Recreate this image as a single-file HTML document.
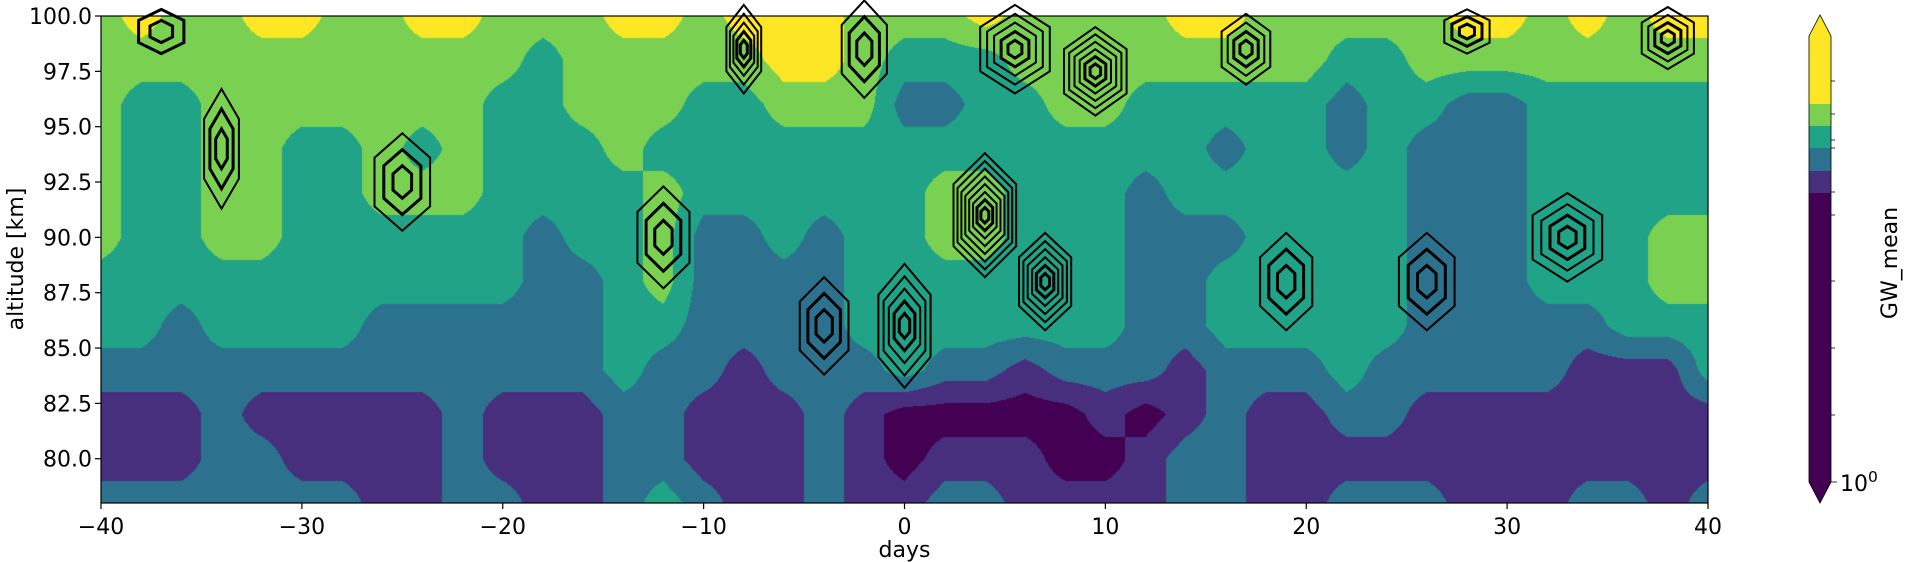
<!DOCTYPE html>
<html><head><meta charset="utf-8">
<style>
html,body{margin:0;padding:0;background:#fff;}
#wrap{position:relative;width:1909px;height:562px;overflow:hidden;font-family:"DejaVu Sans","Liberation Sans",sans-serif;}
#fill{position:absolute;left:101px;top:16px;}
#ov{position:absolute;left:0;top:0;}
text{font-family:"DejaVu Sans","Liberation Sans",sans-serif;fill:#000;}
</style></head>
<body>
<div id="wrap">
<canvas id="fill" width="1607" height="487"></canvas>
<svg id="ov" width="1909" height="562"></svg>
</div>
<script>
const days = [-40,-38,-36,-34,-32,-30,-28,-26,-24,-22,-20,-18,-16,-14,-12,-10,-8,-6,-4,-2,0,2,4,6,8,10,12,14,16,18,20,22,24,26,28,30,32,34,36,38,40];
const altitudes = [100,98,96,94,92,90,88,86,84,82,80,78];
const levelCols = [
[4,4,4,4,4,4,3,3,2,1,1,2],
[5,4,3,3,3,3,3,3,2,1,1,2],
[4,4,3,3,3,3,3,2,2,1,1,2],
[4,4,4,4,4,4,3,3,2,2,2,2],
[5,4,4,4,4,4,3,3,2,1,2,2],
[5,4,4,3,3,3,3,3,2,1,1,2],
[4,4,4,3,3,3,3,3,2,1,1,2],
[4,4,4,4,4,3,3,2,2,1,1,1],
[5,4,4,3,4,3,3,2,2,1,1,1],
[5,4,4,4,4,3,3,2,2,2,2,2],
[4,4,3,3,3,3,3,2,2,1,1,2],
[4,3,3,3,3,2,2,2,2,1,1,1],
[4,4,4,3,3,3,2,2,2,1,1,1],
[5,4,4,4,3,3,3,3,3,2,2,2],
[5,4,4,3,4,4,4,3,2,2,2,3],
[4,4,3,3,3,2,2,2,2,1,1,2],
[5,4,3,3,3,2,2,2,1,1,1,1],
[5,5,4,3,3,3,2,2,2,1,1,1],
[5,5,4,3,3,2,2,2,2,2,2,2],
[4,4,4,3,3,3,3,3,2,1,1,1],
[4,3,2,3,3,3,3,3,3,0,0,1],
[4,3,2,3,4,4,3,3,2,0,1,2],
[5,3,3,3,4,4,3,3,2,0,1,2],
[4,4,3,3,3,3,3,3,1,0,1,1],
[4,4,4,3,3,3,3,3,2,0,0,1],
[4,4,4,3,3,3,3,3,2,1,0,1],
[4,4,3,3,2,2,2,2,2,0,1,1],
[5,4,3,3,3,2,2,2,1,1,2,2],
[5,4,3,2,3,2,3,3,2,2,2,2],
[4,4,3,3,3,3,3,3,2,1,1,1],
[4,4,3,3,3,3,3,3,2,1,1,1],
[4,3,2,2,3,3,3,3,3,2,1,2],
[4,3,3,3,3,3,3,3,2,2,1,2],
[4,4,3,2,2,2,2,2,2,1,1,2],
[5,4,2,2,2,2,2,2,2,1,1,1],
[5,4,2,2,2,2,2,2,2,1,1,1],
[4,4,3,3,3,3,3,2,2,1,1,1],
[5,4,3,3,3,3,3,2,1,1,1,2],
[4,4,3,3,3,3,3,3,1,1,1,2],
[5,4,3,3,3,4,4,3,1,1,1,1],
[5,4,3,3,3,4,4,3,3,1,1,2]
];
const ringDay = [4,7,0,9.5,-12,-34,-25,33,19,26,-8,5.5,-2,-4,17,38,-37,28];
const ringAlt = [91,88,86,97.5,90,94,92.5,90,88,88,98.5,98.5,98.5,86,98.5,99,99.3,99.3];
const ringRx = [1.8,1.5,1.5,1.8,1.5,1,1.6,2,1.5,1.6,1,2,1.3,1.4,1.4,1.5,1.3,1.3];
const ringRy = [2.8,2.2,2.8,2,2.3,2.7,2.2,2,2.2,2.2,2,2,2.2,2.2,1.6,1.4,1,1];
const ringN = [8,6,5,6,3,3,3,4,3,3,5,5,3,3,4,4,2,3];
const xTicks = [-40,-30,-20,-10,0,10,20,30,40];
const yTicks = [100.0,97.5,95.0,92.5,90.0,87.5,85.0,82.5,80.0];
const colors = ['#440154','#472f7d','#2c728e','#20a386','#7ad151','#fde725'];

const X0=101,X1=1708,Y0=16,Y1=503;
function xS(d){return X0+(d+40)/80*(X1-X0);}
function yS(a){return Y0+(100-a)/22*(Y1-Y0);}

const cv=document.getElementById('fill');const ctx=cv.getContext('2d');
const W=cv.width,H=cv.height;const img=ctx.createImageData(W,H);
const rgb=colors.map(c=>[parseInt(c.slice(1,3),16),parseInt(c.slice(3,5),16),parseInt(c.slice(5,7),16)]);
const nC=days.length,nR=altitudes.length;
function val(i,j){return levelCols[i][j]+0.5;}
for(let py=0;py<H;py++){
  const alt=100-(py+0.5)/H*22;
  let fj=(altitudes[0]-alt)/(altitudes[0]-altitudes[1]);fj=Math.max(0,Math.min(nR-1.0001,fj));
  const j=Math.floor(fj),tj=fj-j;
  for(let px=0;px<W;px++){
    const d=-40+(px+0.5)/W*80;
    let fi=(d-days[0])/(days[1]-days[0]);fi=Math.max(0,Math.min(nC-1.0001,fi));
    const i=Math.floor(fi),ti=fi-i;
    const v=val(i,j)*(1-ti)*(1-tj)+val(i+1,j)*ti*(1-tj)+val(i,j+1)*(1-ti)*tj+val(i+1,j+1)*ti*tj;
    const L=Math.max(0,Math.min(5,Math.floor(v)));
    const k=(py*W+px)*4;img.data[k]=rgb[L][0];img.data[k+1]=rgb[L][1];img.data[k+2]=rgb[L][2];img.data[k+3]=255;
  }
}
ctx.putImageData(img,0,0);

const NS='http://www.w3.org/2000/svg';const svg=document.getElementById('ov');
function mk(tag,attrs,parent){const e=document.createElementNS(NS,tag);for(const k in attrs)e.setAttribute(k,attrs[k]);(parent||svg).appendChild(e);return e;}

const rg=mk('g',{});


const pxPerDay=(X1-X0)/80,pxPerKm=(Y1-Y0)/22;
for(let c=0;c<ringDay.length;c++){
  for(let k=1;k<=ringN[c];k++){
    const f=k/ringN[c];
    const cx=xS(ringDay[c]),cy=yS(ringAlt[c]);
    const rx=ringRx[c]*pxPerDay*f,ry=ringRy[c]*pxPerKm*f;
    const pts=[];
    for(let a=0;a<6;a++){const t=a/6*Math.PI*2+Math.PI/2;pts.push((cx+rx*Math.cos(t)).toFixed(1)+','+(cy+ry*Math.sin(t)).toFixed(1));}
    const p=mk('polygon',{points:pts.join(' '),fill:'none',stroke:'#000','stroke-width':k<=2?3:2},rg);
    
    
  }
}

const fr=mk('rect',{x:X0,y:Y0,width:X1-X0,height:Y1-Y0,fill:'none',stroke:'#000','stroke-width':1.2});



for(const t of xTicks){
  const x=xS(t);
  const l=mk('line',{x1:x,x2:x,y1:Y1,y2:Y1+6,stroke:'#000','stroke-width':1.2});
  
  
  const tx=mk('text',{x:x,y:534,'font-size':22,'text-anchor':'middle'});
  tx.textContent=(t<0?'\u2212'+(-t):String(t));
  
  
}
for(const t of yTicks){
  const y=yS(t);
  const l=mk('line',{x1:X0-6,x2:X0,y1:y,y2:y,stroke:'#000','stroke-width':1.2});
  
  
  const tx=mk('text',{x:92,y:y+8,'font-size':22,'text-anchor':'end'});
  tx.textContent=t.toFixed(1);
  
  
}
const xl=mk('text',{x:(X0+X1)/2,y:557,'font-size':22,'text-anchor':'middle'});xl.textContent='days';


const yl=mk('text',{x:0,y:0,'font-size':22,'text-anchor':'middle',transform:'translate(23,259) rotate(-90)'});yl.textContent='altitude [km]';



const cb=mk('g',{});


const cbX0=1809,cbX1=1831;
const cbEdges=[482,193,171,148,126,104,36];
mk('polygon',{points:`${cbX0},${cbEdges[6]} ${(cbX0+cbX1)/2},15 ${cbX1},${cbEdges[6]}`,fill:colors[5]},cb);
mk('polygon',{points:`${cbX0},${cbEdges[0]} ${(cbX0+cbX1)/2},503 ${cbX1},${cbEdges[0]}`,fill:colors[0]},cb);
for(let i=0;i<6;i++){
  const r=mk('rect',{x:cbX0,y:cbEdges[i+1],width:cbX1-cbX0,height:cbEdges[i]-cbEdges[i+1],fill:colors[i]},cb);
  
  
}
mk('polygon',{points:`${cbX0},${cbEdges[6]} ${(cbX0+cbX1)/2},15 ${cbX1},${cbEdges[6]} ${cbX1},${cbEdges[0]} ${(cbX0+cbX1)/2},503 ${cbX0},${cbEdges[0]}`,fill:'none',stroke:'#000','stroke-width':0.8},cb);
const cbTicks=[81,114,140,148,192,215,281,348,415,482];
for(const y of cbTicks){
  const l=mk('line',{x1:cbX1,x2:cbX1+(y===482?6:4),y1:y,y2:y,stroke:'#000','stroke-width':0.8},cb);
  
  
}
const ct=mk('text',{x:1840,y:491,'font-size':22});ct.textContent='10';


const cs=mk('tspan',{dy:-9,'font-size':15.5},ct);cs.textContent='0';
const cl=mk('text',{x:0,y:0,'font-size':22,'text-anchor':'middle',transform:'translate(1897,263) rotate(-90)'});cl.textContent='GW_mean';


</script>
</body></html>
